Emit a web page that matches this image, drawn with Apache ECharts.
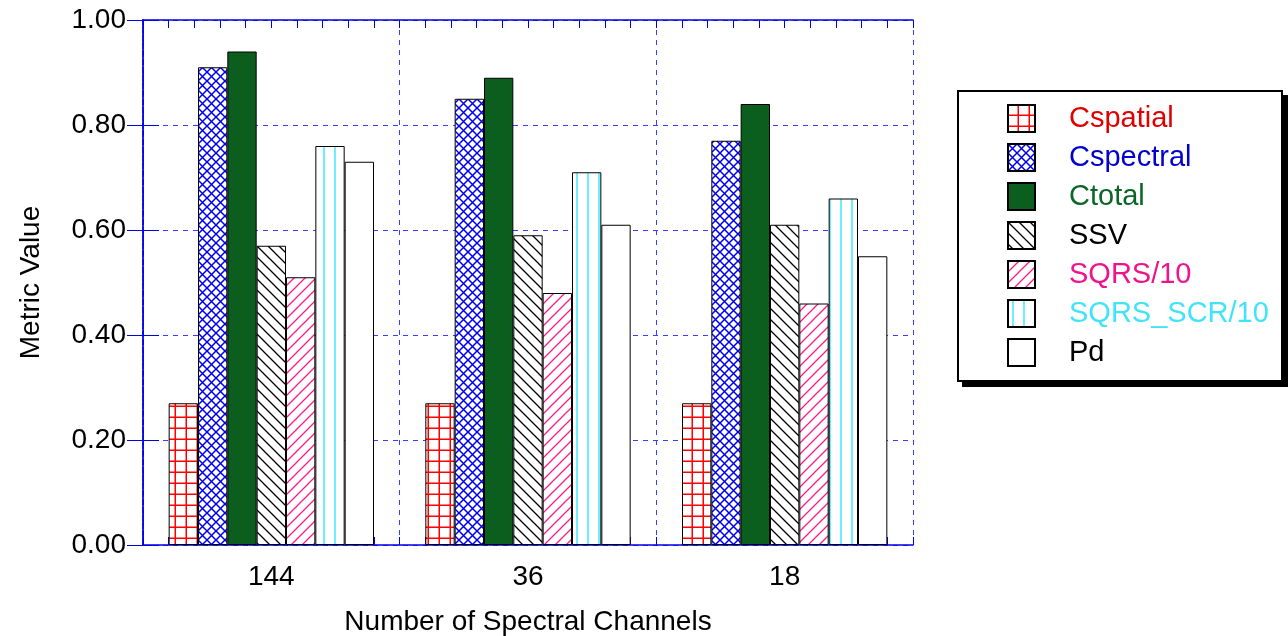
<!DOCTYPE html>
<html>
<head>
<meta charset="utf-8">
<script src="https://cdn.jsdelivr.net/npm/echarts@6/dist/echarts.min.js"></script>
<style>
html, body { margin: 0; padding: 0; background: #fff; }
#ct1 { width: 1288px; height: 636px; }
</style>
</head>
<body>
<div id="ct1"></div>
<script>
var categories = ['144', '36', '18'];
var seriesNames = ['Cspatial', 'Cspectral', 'Ctotal', 'SSV', 'SQRS/10', 'SQRS_SCR/10', 'Pd'];
var cspatial = [0.27, 0.27, 0.27];
var cspectral = [0.91, 0.85, 0.77];
var ctotal = [0.94, 0.89, 0.84];
var ssv = [0.57, 0.59, 0.61];
var sqrs = [0.51, 0.48, 0.46];
var sqrsScr = [0.76, 0.71, 0.66];
var pd = [0.73, 0.61, 0.55];
var yTicks = [0, 0.2, 0.4, 0.6, 0.8, 1.0];

var blue = '#0000e6';
var gridBlue = '#3c3cff';
var fontFam = 'Liberation Sans, Arial, sans-serif';

// hatch patterns
function makePattern(w, h, draw) {
    var c = document.createElement('canvas');
    c.width = w;
    c.height = h;
    var ctx = c.getContext('2d');
    ctx.fillStyle = '#fff';
    ctx.fillRect(0, 0, w, h);
    draw(ctx, w, h);
    return {image: c, repeat: 'repeat'};
}

var pGrid = makePattern(11, 11, function (ctx, w, h) {
    ctx.strokeStyle = '#ff0000';
    ctx.lineWidth = 1.5;
    ctx.beginPath();
    ctx.moveTo(w - 0.75, 0); ctx.lineTo(w - 0.75, h);
    ctx.moveTo(0, h - 0.75); ctx.lineTo(w, h - 0.75);
    ctx.stroke();
});
var pDiamond = makePattern(9, 9, function (ctx, w, h) {
    ctx.strokeStyle = '#0000ee';
    ctx.lineWidth = 1.5;
    ctx.beginPath();
    ctx.moveTo(-1, -1); ctx.lineTo(w + 1, h + 1);
    ctx.moveTo(w + 1, -1); ctx.lineTo(-1, h + 1);
    ctx.stroke();
});
var pBack = makePattern(11, 11, function (ctx, w, h) {
    ctx.strokeStyle = '#000';
    ctx.lineWidth = 1.3;
    ctx.beginPath();
    ctx.moveTo(-1, -1); ctx.lineTo(w + 1, h + 1);
    ctx.moveTo(-1, h - 1); ctx.lineTo(1, h + 1);
    ctx.moveTo(w - 1, -1); ctx.lineTo(w + 1, 1);
    ctx.stroke();
});
var pFwd = makePattern(11, 11, function (ctx, w, h) {
    ctx.strokeStyle = '#ff1a8c';
    ctx.lineWidth = 1.3;
    ctx.beginPath();
    ctx.moveTo(w + 1, -1); ctx.lineTo(-1, h + 1);
    ctx.moveTo(-1, 1); ctx.lineTo(1, -1);
    ctx.moveTo(w - 1, h + 1); ctx.lineTo(w + 1, h - 1);
    ctx.stroke();
});
var pVert = makePattern(11, 11, function (ctx, w, h) {
    ctx.strokeStyle = '#3ee8ff';
    ctx.lineWidth = 1.5;
    ctx.beginPath();
    ctx.moveTo(5, 0); ctx.lineTo(5, h);
    ctx.stroke();
});

var fills = [pGrid, pDiamond, '#0b5e1e', pBack, pFwd, pVert, '#ffffff'];
var textColors = ['#e00000', '#0000d0', '#0b6628', '#000000', '#f0148c', '#40e4f8', '#000000'];
var values = [cspatial, cspectral, ctotal, ssv, sqrs, sqrsScr, pd];

var series = [];
for (var i = 0; i < seriesNames.length; i++) {
    series.push({
        name: seriesNames[i],
        type: 'bar',
        xAxisIndex: 0,
        yAxisIndex: 0,
        barGap: 0,
        barCategoryGap: '20%',
        data: values[i],
        itemStyle: {color: fills[i], borderColor: '#000', borderWidth: 1},
        emphasis: {disabled: true}
    });
}

var legendData = seriesNames.map(function (n, i) {
    return {name: n, icon: 'rect', textStyle: {color: textColors[i]}};
});

var tickAxis = {
    type: 'value', min: 0, max: 30, interval: 1,
    axisLabel: {show: false},
    splitLine: {show: false},
    axisTick: {show: true, inside: true, length: 8, lineStyle: {color: blue, width: 1}}
};

var option1 = {
    animation: false,
    backgroundColor: '#fff',
    textStyle: {fontFamily: fontFam},
    grid: {left: 143, right: 375, top: 20, bottom: 91, outerBoundsMode: 'none', containLabel: false},
    // legend frame with its hard shadow
    graphic: [{
        type: 'rect', z: 0, silent: true,
        shape: {x: 962, y: 95, width: 326, height: 292},
        style: {fill: '#000'}
    }, {
        type: 'rect', z: 1, silent: true,
        shape: {x: 958, y: 91, width: 324, height: 290},
        style: {fill: '#fff', stroke: '#000', lineWidth: 2}
    }],
    legend: {
        orient: 'vertical',
        left: 1007,
        top: 104,
        z: 10,
        padding: 0,
        itemWidth: 27,
        itemHeight: 27,
        itemGap: 10,
        align: 'left',
        itemStyle: {borderColor: '#000', borderWidth: 2},
        textStyle: {fontSize: 29, fontFamily: fontFam, padding: [0, 0, 0, 29], lineHeight: 27},
        data: legendData
    },
    xAxis: [{
        type: 'category',
        data: categories,
        position: 'bottom',
        axisLine: {lineStyle: {color: blue, width: 1.5}},
        axisTick: {show: false},
        axisLabel: {fontSize: 28, color: '#000', margin: 18},
        splitLine: {show: true, lineStyle: {color: gridBlue, type: [5, 5], width: 1}},
        name: 'Number of Spectral Channels',
        nameLocation: 'middle',
        nameGap: 63,
        nameTextStyle: {fontSize: 28, color: '#000'}
    }, Object.assign({}, tickAxis, {
        position: 'bottom',
        axisLine: {show: false}
    }), Object.assign({}, tickAxis, {
        position: 'top',
        axisLine: {show: true, lineStyle: {color: blue, width: 1.5}}
    })],
    yAxis: [{
        type: 'value',
        min: yTicks[0],
        max: yTicks[yTicks.length - 1],
        interval: 0.2,
        position: 'left',
        axisLine: {show: true, lineStyle: {color: blue, width: 1.5}},
        axisTick: {show: true, inside: true, length: 16, lineStyle: {color: blue, width: 1}},
        axisLabel: {fontSize: 28, color: '#000', margin: 17, formatter: function (v) { return v.toFixed(2); }},
        splitLine: {show: true, lineStyle: {color: gridBlue, type: [5, 5], width: 1}},
        name: 'Metric Value',
        nameLocation: 'middle',
        nameGap: 98,
        nameTextStyle: {fontSize: 28, color: '#000'}
    }, {
        type: 'value',
        min: yTicks[0],
        max: yTicks[yTicks.length - 1],
        interval: 0.2,
        position: 'right',
        axisLine: {show: true, lineStyle: {color: blue, width: 1.5, type: [6, 2]}},
        axisTick: {show: true, inside: true, length: 16, lineStyle: {color: blue, width: 1}},
        axisLabel: {show: false},
        splitLine: {show: false}
    }],
    series: series
};

var myChart1 = echarts.init(document.getElementById('ct1'));
myChart1.setOption(option1, true);
</script>
</body>
</html>
